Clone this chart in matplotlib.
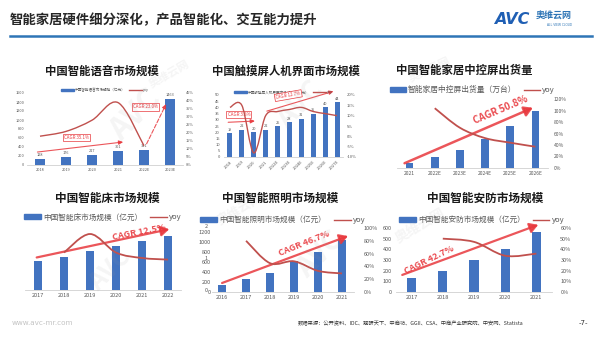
import numpy as np
import matplotlib.pyplot as plt
from matplotlib.path import Path
from matplotlib.patches import PathPatch, Patch
from matplotlib.lines import Line2D

plt.rcParams['font.family'] = ['Noto Sans CJK SC', 'DejaVu Sans']

W, H = 600, 338
BLUE = '#4273c0'
YOY = '#c0504d'
CAGR = '#e8383d'
GREY = '#595959'

# 智能语音
voice_cats = ['2018', '2019', '2020', '2021', '2022E', '2023E']
voice_size = [128, 176, 217, 301, 341, 1463]
voice_yoy = [18, 21, 28, 39, 12]

# 触摸屏人机界面
hmi_cats = ['2018', '2019', '2020', '2021', '2022E', '2023E', '2024E', '2025E', '2026E', '2027E']
hmi_size = [19, 22, 20, 22, 25, 28, 31, 35, 40, 44]
hmi_yoy = [14, 15, -8, 10, 12, 13, 14, 12, 11, 10]

# 中控屏
panel_cats = ['2021', '2022E', '2023E', '2024E', '2025E', '2026E']
panel_ship = [65, 135, 230, 360, 530, 720]
panel_yoy = [104, 70, 52, 44, 37]

# 智能床
bed_cats = ['2017', '2018', '2019', '2020', '2021', '2022']
bed_size = [55, 61, 74, 83, 92, 101]
bed_yoy = [1.17, 1.75, 1.17, 1.0, 0.95]

# 智能照明
light_cats = ['2016', '2017', '2018', '2019', '2020', '2021']
light_size = [140, 270, 390, 620, 810, 1050]
light_yoy = [80, 45, 48, 33, 29]

# 智能安防
sec_cats = ['2017', '2018', '2019', '2020', '2021']
sec_size = [130, 200, 300, 405, 560]
sec_yoy = [50, 47, 34, 36]

fig = plt.figure(figsize=(W / 100, H / 100), dpi=100)


def px_rect(x0, y0, x1, y1):
    return [x0 / W, 1 - y1 / H, (x1 - x0) / W, (y1 - y0) / H]


def ftext(x, y, s, **kw):
    fig.text(x / W, 1 - y / H, s, **kw)


def smooth(ax, xs, ys, **kw):
    # Catmull-Rom style cubic bezier through the points
    xs = np.asarray(xs, float)
    ys = np.asarray(ys, float)
    n = len(xs)
    verts = [(xs[0], ys[0])]
    codes = [Path.MOVETO]
    for i in range(n - 1):
        a, b = max(i - 1, 0), min(i + 2, n - 1)
        c1 = (xs[i] + (xs[i + 1] - xs[a]) / 6, ys[i] + (ys[i + 1] - ys[a]) / 6)
        c2 = (xs[i + 1] - (xs[b] - xs[i]) / 6, ys[i + 1] - (ys[b] - ys[i]) / 6)
        verts += [c1, c2, (xs[i + 1], ys[i + 1])]
        codes += [Path.CURVE4] * 3
    ax.add_patch(PathPatch(Path(verts, codes), fill=False, ec=YOY, **kw))


def panel(box, cats, vals, width, ylim, rlim, rticks, fs, lticks=None,
          pct=True, lpad=1.5, rpad=1.5, xlim=None):
    ax = fig.add_axes(px_rect(*box))
    x = np.arange(len(cats))
    ax.bar(x, vals, width=width, color=BLUE, zorder=2)
    ax.set_xlim(*(xlim or (-0.5, len(cats) - 0.5)))
    ax.set_ylim(*ylim)
    ax.set_xticks(x)
    ax.set_xticklabels(cats, fontsize=fs, color=GREY)
    if lticks is None:
        ax.set_yticks([])
    else:
        ax.set_yticks(lticks)
        ax.set_yticklabels([str(t) for t in lticks], fontsize=fs, color=GREY)
    for s in ('top', 'left', 'right'):
        ax.spines[s].set_visible(False)
    ax.spines['bottom'].set_color('#d0d0d0')
    ax.spines['bottom'].set_linewidth(0.6)
    ax.tick_params(axis='x', length=0, pad=2)
    ax.tick_params(axis='y', length=0, pad=lpad)
    ax2 = ax.twinx()
    ax2.set_ylim(*rlim)
    ax2.set_yticks(rticks)
    ax2.set_yticklabels([f'{t}%' if pct else str(t) for t in rticks],
                        fontsize=fs, color=GREY)
    ax2.tick_params(length=0, pad=rpad)
    for s in ax2.spines.values():
        s.set_visible(False)
    return ax, ax2


def legend(ax, label, fs, y=1.0, x=0.5, hl=2.0, gap=0.2):
    ax.legend([Patch(color=BLUE), Line2D([], [], color=YOY, lw=1)],
              [label, 'yoy'], loc='lower center', bbox_to_anchor=(x, y),
              ncol=2, frameon=False, fontsize=fs, handlelength=hl,
              handleheight=0.7, columnspacing=1.0, handletextpad=0.3,
              borderpad=0, borderaxespad=gap, labelcolor=GREY)


def arrow(ax, p0, p1, lw=1.6, ls='-', hw=0.25, hl=0.5):
    ax.annotate('', xy=p1, xytext=p0, annotation_clip=False,
                arrowprops=dict(arrowstyle=f'-|>,head_length={hl},head_width={hw}',
                                color=CAGR, lw=lw, ls=ls, alpha=0.85,
                                shrinkA=0, shrinkB=0), zorder=5)


def boxed(ax, x, y, s, fs=3.5, rot=0):
    ax.text(x, y, s, fontsize=fs, color=CAGR, ha='center', va='center',
            rotation=rot, zorder=6,
            bbox=dict(boxstyle='square,pad=0.25', fc='white', ec=CAGR, lw=0.5))


def big_cagr(ax, x, y, s, rot, fs=6.5):
    ax.text(x, y, s, fontsize=fs, color=CAGR, ha='center', va='center',
            rotation=rot, fontweight='bold', zorder=6, alpha=0.9,
            rotation_mode='anchor')


# faint watermarks
for (wx, wy, ws, wr, wf) in [(135, 115, 'AVC', 45, 22), (170, 75, '奥维云网', 30, 8),
                              (300, 105, 'AVC', 45, 20), (430, 70, '奥维云网', 25, 8),
                              (240, 210, '奥维云网', 30, 9), (320, 255, 'AVC', 45, 20),
                              (420, 225, '奥维云网', 30, 10), (110, 270, 'AVC', 45, 18)]:
    ftext(wx, wy, ws, fontsize=wf, color='#9a9a9a', alpha=0.1, rotation=wr,
          ha='center', va='center', fontweight='bold')

# header
ftext(10, 20, '智能家居硬件细分深化，产品智能化、交互能力提升', fontsize=9.6,
      fontweight='bold', color='#262626', va='center')
fig.add_artist(Line2D([10 / W, 592 / W], [1 - 36 / H, 1 - 36 / H],
                      color='#2e75b6', lw=1.8))
ftext(494, 19, 'AVC', fontsize=11.5, fontweight='bold', fontstyle='italic',
      color='#1f5fb4', va='center', family='DejaVu Sans')
ftext(536, 16, '奥维云网', fontsize=6.5, fontweight='bold', color='#2e75b6',
      va='center')
ftext(560, 25, 'ALL VIEW CLOUD', fontsize=2.2, color='#2e75b6',
      va='center', ha='center', family='DejaVu Sans')

# footer
ftext(12, 323, 'www.avc-mr.com', fontsize=5.2, color='#c4c4c4', va='center',
      family='DejaVu Sans')
ftext(523, 323, '数据来源：公开资料、IDC、观研天下、中商坊、GGII、CSA、中商产业研究院、中安网、Statista',
      fontsize=3.8, color='#333333', va='center', ha='right')
ftext(583, 323, '-7-', fontsize=5, color='#333333', va='center', ha='center',
      family='DejaVu Sans')

TITLE = dict(fontsize=8.2, fontweight='bold', color='#1a1a1a', ha='center',
             va='center')

# 1. 智能语音市场规模
ftext(102, 71, '中国智能语音市场规模', **TITLE)
ax, ax2 = panel((27, 93, 183, 165), voice_cats, voice_size, 0.35, (0, 1600),
                (0, 45), list(range(0, 50, 5)), 2.8,
                lticks=list(range(0, 1800, 200)), lpad=2, rpad=2)
for i, v in enumerate(voice_size):
    ax.text(i, v + 45, str(v), fontsize=2.8, color=GREY, ha='center', va='bottom')
smooth(ax2, range(len(voice_yoy)), voice_yoy, lw=1.0, zorder=4)
legend(ax, '中国智能语音市场规模（亿元）', 2.6, hl=3.5)
arrow(ax, (-0.1, voice_size[0] + 160), (3.2, voice_size[3] + 210), lw=0.8,
      hw=0.12, hl=0.25)
boxed(ax, 1.4, 610, 'CAGR 35.1%', fs=3.2, rot=0)
arrow(ax, (4.1, voice_size[4] + 130), (4.85, voice_size[5] - 110), lw=0.8,
      ls='--', hw=0.12, hl=0.25)
boxed(ax, 4.05, 1290, 'CAGR 23.0%', fs=3.2)

# 2. 触摸屏人机界面市场规模
ftext(286, 71, '中国触摸屏人机界面市场规模', **TITLE)
ax, ax2 = panel((224, 95, 343, 157), hmi_cats, hmi_size, 0.42, (0, 50),
                (-10, 20), list(range(-10, 25, 5)), 3.0,
                lticks=list(range(0, 55, 5)), lpad=3, rpad=3)
plt.setp(ax.get_xticklabels(), rotation=45, ha='right', rotation_mode='anchor')
for i, v in enumerate(hmi_size):
    ax.text(i, v + 1.2, str(v), fontsize=2.8, color=GREY, ha='center', va='bottom')
smooth(ax2, range(len(hmi_yoy)), hmi_yoy, lw=1.0, zorder=4)
legend(ax, '中国触摸屏人机界面市场规模（亿元）', 2.6, hl=3.5)
arrow(ax, (-0.15, 28), (2.1, 29), lw=0.8, hw=0.12, hl=0.25)
boxed(ax, 0.75, 34.5, 'CAGR 3.8%', fs=3.2)
arrow(ax, (3.1, 37), (8.7, 53), lw=0.8, hw=0.12, hl=0.25)
boxed(ax, 4.9, 49.5, 'CAGR 12.7%', fs=3.2, rot=10)

# 3. 智能家居中控屏出货量
ftext(464, 70, '中国智能家居中控屏出货量', **TITLE)
ax, ax2 = panel((397, 99, 548, 168), panel_cats, panel_ship, 0.3, (0, 870),
                (0, 120), list(range(0, 140, 20)), 3.6, rpad=4)
smooth(ax2, range(1, len(panel_cats)), panel_yoy, lw=1.3, zorder=4)
legend(ax, '智能家居中控屏出货量（万台）', 5.6, hl=2.0, gap=0.6)
arrow(ax, (-0.2, 60), (4.9, 760), lw=1.8, hw=0.3, hl=0.5)
big_cagr(ax, 3.6, 730, 'CAGR 50.8%', 23, fs=7)

TITLE2 = dict(TITLE, fontsize=8.4)

# 4. 智能床市场规模
ftext(107, 198, '中国智能床市场规模', **TITLE2)
ax, ax2 = panel((25, 226, 181, 290), bed_cats, bed_size, 0.33, (0, 120),
                (0, 2), [0, 1, 2], 4.0, pct=False, rpad=17)
smooth(ax2, range(1, len(bed_cats)), bed_yoy, lw=1.3, zorder=4)
legend(ax, '中国智能床市场规模（亿元）', 5.5, hl=2.2, x=0.5, gap=0.6)
arrow(ax, (-0.05, 61), (5.05, 114), lw=1.6, hw=0.3, hl=0.5)
big_cagr(ax, 3.9, 108, 'CAGR 12.5%', 11, fs=6.5)

# 5. 智能照明市场规模
ftext(280, 198, '中国智能照明市场规模', **TITLE2)
ax, ax2 = panel((212, 228, 354, 292), light_cats, light_size, 0.35, (0, 1280),
                (0, 100), list(range(0, 120, 20)), 4.0,
                lticks=list(range(0, 1400, 200)), lpad=1, rpad=7,
                xlim=(-0.42, 5.5))
smooth(ax2, range(1, len(light_cats)), light_yoy, lw=1.3, zorder=4)
legend(ax, '中国智能照明市场规模（亿元）', 5.5, hl=2.2, gap=0.5)
arrow(ax, (0, 180), (5.25, 1120), lw=1.6, hw=0.3, hl=0.5)
big_cagr(ax, 3.4, 960, 'CAGR 46.7%', 22, fs=6.5)

# 6. 智能安防市场规模
ftext(485, 198, '中国智能安防市场规模', **TITLE2)
ax, ax2 = panel((396, 228, 552, 292), sec_cats, sec_size, 0.3, (0, 600),
                (0, 60), list(range(0, 70, 10)), 4.0,
                lticks=list(range(0, 700, 100)), lpad=3, rpad=6)
smooth(ax2, range(1, len(sec_cats)), sec_yoy, lw=1.3, zorder=4)
legend(ax, '中国智能安防市场规模（亿元）', 5.5, hl=2.2, x=0.55, gap=0.5)
arrow(ax, (-0.3, 160), (4.06, 630), lw=1.6, hw=0.3, hl=0.5)
big_cagr(ax, 0.55, 300, 'CAGR 42.7%', 26, fs=6.5)

fig.savefig('out.png', dpi=100)
